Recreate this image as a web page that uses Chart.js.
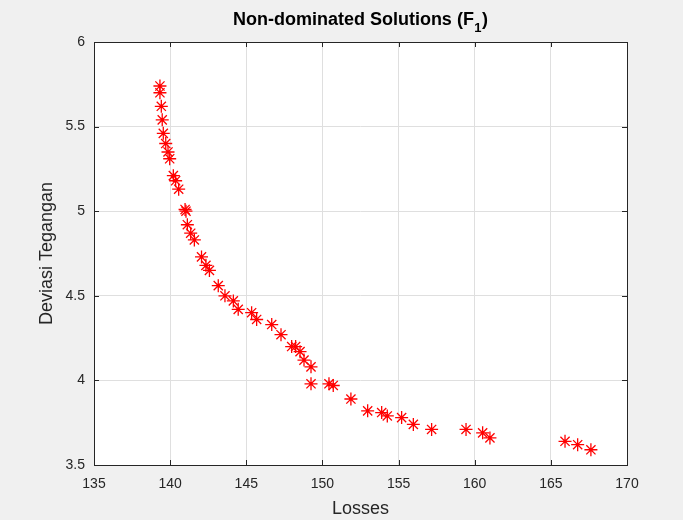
<!DOCTYPE html>
<html>
<head>
<meta charset="utf-8">
<title>Non-dominated Solutions (F1)</title>
<script src="https://cdn.jsdelivr.net/npm/chart.js@4.4.1/dist/chart.umd.min.js"></script>
<style>
  body { margin: 0; background: #ffffff; }
  #paretoChart { display: block; }
</style>
</head>
<body>
<canvas id="paretoChart" width="683" height="520"></canvas>
<script>
// Pareto front values (Losses vs Deviasi Tegangan)
const lossValues = [
  139.33, 139.33, 139.42, 139.48, 139.55, 139.71, 139.86, 139.97, 140.21, 140.36,
  140.56, 140.98, 141.04, 141.13, 141.35, 141.59, 142.06, 142.35, 142.58, 143.16,
  143.60, 144.15, 144.47, 145.35, 145.68, 146.67, 147.28, 147.98, 148.24, 148.53,
  148.79, 149.25, 149.25, 150.43, 150.71, 151.87, 152.97, 153.89, 154.26, 155.20,
  155.97, 157.17, 159.43, 160.52, 161.00, 165.93, 166.76, 167.63
];
const deviationValues = [
  5.74, 5.70, 5.62, 5.54, 5.46, 5.40, 5.35, 5.31, 5.21, 5.18,
  5.13, 5.01, 5.00, 4.92, 4.87, 4.83, 4.73, 4.68, 4.65, 4.56,
  4.50, 4.47, 4.42, 4.40, 4.36, 4.33, 4.27, 4.20, 4.20, 4.17,
  4.12, 4.08, 3.98, 3.98, 3.97, 3.89, 3.82, 3.81, 3.79, 3.78,
  3.74, 3.71, 3.71, 3.69, 3.66, 3.64, 3.62, 3.59
];
const xTicks = [135, 140, 145, 150, 155, 160, 165, 170];
const yTicks = [3.5, 4, 4.5, 5, 5.5, 6];

const axisColor = '#262626';
const textFont = '"Liberation Sans", Arial, sans-serif';

// Build the point list for Chart.js
let points = [];
lossValues.forEach(function(loss, i) {
  points.push({ x: loss, y: deviationValues[i] });
});

// Grey figure background, white axes, box + inward ticks, and the title with subscript
const matlabLook = {
  id: 'matlabLook',
  beforeDraw(chart) {
    const ctx = chart.ctx;
    const area = chart.chartArea;
    ctx.save();
    ctx.fillStyle = '#f0f0f0';
    ctx.fillRect(0, 0, chart.width, chart.height);
    ctx.fillStyle = '#ffffff';
    ctx.fillRect(area.left, area.top, area.right - area.left, area.bottom - area.top);
    ctx.restore();
  },
  afterDraw(chart) {
    const ctx = chart.ctx;
    const area = chart.chartArea;
    const xs = chart.scales.x;
    const ys = chart.scales.y;
    const tickLen = 5;
    ctx.save();
    ctx.strokeStyle = axisColor;
    ctx.lineWidth = 1;
    ctx.beginPath();
    xTicks.forEach(v => {
      const px = Math.round(xs.getPixelForValue(v)) + 0.5;
      ctx.moveTo(px, area.bottom);
      ctx.lineTo(px, area.bottom - tickLen);
      ctx.moveTo(px, area.top);
      ctx.lineTo(px, area.top + tickLen);
    });
    yTicks.forEach(v => {
      const py = Math.round(ys.getPixelForValue(v)) + 0.5;
      ctx.moveTo(area.left, py);
      ctx.lineTo(area.left + tickLen, py);
      ctx.moveTo(area.right, py);
      ctx.lineTo(area.right - tickLen, py);
    });
    ctx.stroke();
    ctx.strokeRect(Math.round(area.left) + 0.5, Math.round(area.top) + 0.5,
      Math.round(area.right - area.left), Math.round(area.bottom - area.top));

    // Title: "Non-dominated Solutions (F" + subscript 1 + ")"
    const cx = (area.left + area.right) / 2;
    const baseY = 25;
    const mainFont = 'bold 18px ' + textFont;
    const subFont = 'bold 13px ' + textFont;
    const partA = 'Non-dominated Solutions (F';
    const partB = '1';
    const partC = ')';
    ctx.font = mainFont;
    const wA = ctx.measureText(partA).width;
    const wC = ctx.measureText(partC).width;
    ctx.font = subFont;
    const wB = ctx.measureText(partB).width + 1;
    let x0 = cx - (wA + wB + wC) / 2;
    ctx.fillStyle = '#000000';
    ctx.textBaseline = 'alphabetic';
    ctx.textAlign = 'left';
    ctx.font = mainFont;
    ctx.fillText(partA, x0, baseY);
    ctx.font = subFont;
    ctx.fillText(partB, x0 + wA + 0.5, baseY + 7);
    ctx.font = mainFont;
    ctx.fillText(partC, x0 + wA + wB, baseY);
    ctx.restore();
  }
};

var chart = new Chart(document.getElementById('paretoChart'), {
  type: 'scatter',
  data: {
    datasets: [{
      label: 'Non-dominated',
      data: points,
      pointStyle: 'star',
      pointRadius: 6.5,
      pointBorderWidth: 1.3,
      borderColor: '#ff0000',
      backgroundColor: '#ff0000',
      showLine: false
    }]
  },
  options: {
    responsive: false,
    animation: false,
    layout: { padding: { left: 0, right: 56, top: 42, bottom: 0 } },
    plugins: {
      legend: { display: false },
      tooltip: { enabled: false },
      title: { display: false }
    },
    scales: {
      x: {
        type: 'linear',
        min: 135,
        max: 170,
        afterBuildTicks: axis => { axis.ticks = xTicks.map(v => ({ value: v })); },
        afterFit: axis => { axis.height = 55; },
        grid: { color: '#dfdfdf', drawTicks: false },
        border: { display: false },
        ticks: {
          padding: 11,
          color: axisColor,
          font: { family: textFont, size: 14 },
          maxRotation: 0,
          callback: v => String(v)
        },
        title: {
          display: true,
          text: 'Losses',
          color: axisColor,
          font: { family: textFont, size: 18 },
          padding: { top: 0, bottom: 0 }
        }
      },
      y: {
        type: 'linear',
        min: 3.5,
        max: 6,
        afterBuildTicks: axis => { axis.ticks = yTicks.map(v => ({ value: v })); },
        afterFit: axis => { axis.width = 94; },
        grid: { color: '#dfdfdf', drawTicks: false },
        border: { display: false },
        ticks: {
          padding: 9,
          color: axisColor,
          font: { family: textFont, size: 14 },
          callback: v => String(v)
        },
        title: {
          display: true,
          text: 'Deviasi Tegangan',
          color: axisColor,
          font: { family: textFont, size: 18 },
          padding: { top: 36, bottom: 0 }
        }
      }
    }
  },
  plugins: [matlabLook]
});
</script>
</body>
</html>
